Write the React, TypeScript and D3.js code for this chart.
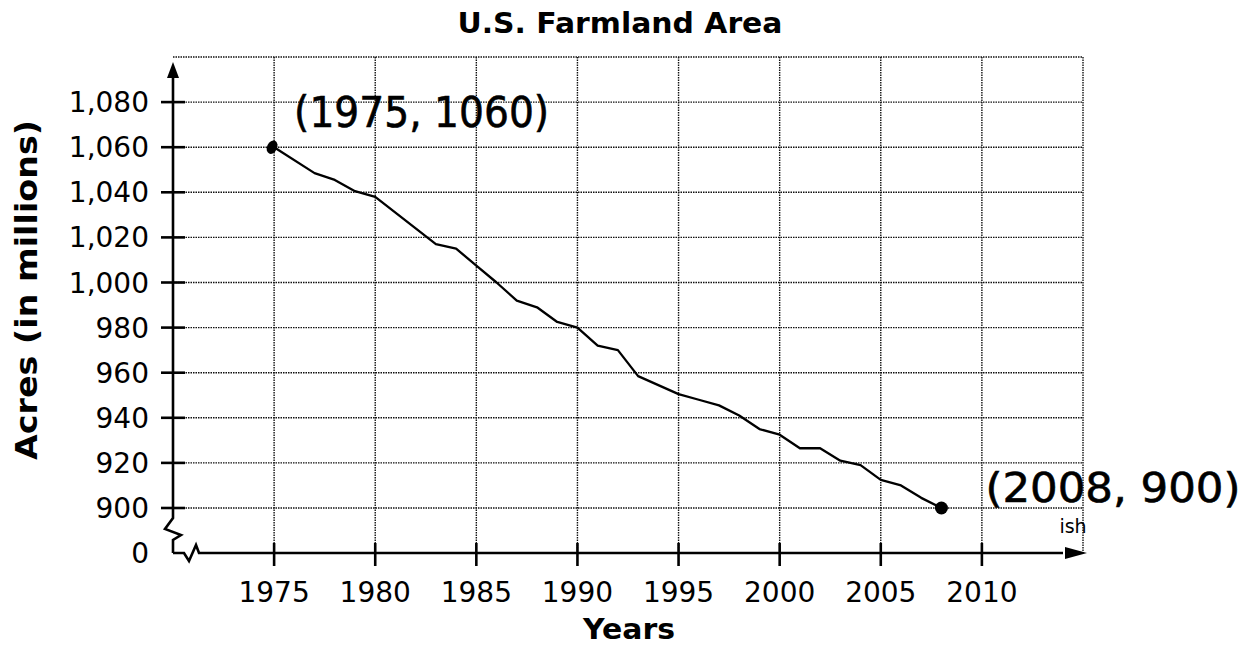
import React from "react";
import * as d3 from "d3";

const years = [1975, 1977, 1978, 1979, 1980, 1983, 1984, 1985, 1986, 1987, 1988, 1989, 1990, 1991, 1992, 1993, 1995, 1996, 1997, 1998, 1999, 2000, 2001, 2002, 2003, 2004, 2005, 2006, 2007, 2008];
const acres = [1060, 1048.5, 1045.5, 1040.5, 1038, 1017, 1015, 1007.5, 1000, 992, 989, 982.5, 980, 972, 970, 958.5, 950.5, 948, 945.5, 941, 935, 932.5, 926.5, 926.5, 921, 919, 912.5, 910, 904.5, 900];
const yTicks = [900, 920, 940, 960, 980, 1000, 1020, 1040, 1060, 1080];
const yGrid = [900, 920, 940, 960, 980, 1000, 1020, 1040, 1060, 1080, 1100];
const xTicks = [1975, 1980, 1985, 1990, 1995, 2000, 2005, 2010];
const xGrid = [1975, 1980, 1985, 1990, 1995, 2000, 2005, 2010, 2015];
const markedPoints = [
  { year: 1975, value: 1060, label: "(1975, 1060)" },
  { year: 2008, value: 900, label: "(2008, 900)" },
];

const FONT = "'DejaVu Sans', Verdana, sans-serif";

export default function App() {
  const W = 1240, H = 646;
  const x = d3.scaleLinear().domain([1970, 2015]).range([173, 1083]);
  const y = d3.scaleLinear().domain([900, 1100]).range([508, 57]);
  const axisY = y(900) + 45; // broken axis: the zero line
  const axisX = x(1970);
  const fmt = d3.format(",");

  const line = d3
    .line<number>()
    .x((_, i) => x(years[i]))
    .y((d) => y(d));

  const gridStyle = {
    stroke: "#111",
    strokeWidth: 1.4,
    strokeDasharray: "1.5 1",
    fill: "none",
  } as const;

  // axis break zigzags
  const yBreak = [
    [axisX, y(900)],
    [axisX, y(900) + 10],
    [axisX - 8, y(900) + 21],
    [axisX + 8, y(900) + 27],
    [axisX, y(900) + 32],
    [axisX, axisY],
  ];
  const xBreak = [
    [axisX, axisY],
    [axisX + 11, axisY],
    [axisX + 16, axisY + 8],
    [axisX + 23, axisY - 8],
    [axisX + 26, axisY],
    [x(2015) - 20, axisY],
  ];
  const poly = d3.line();

  const p1 = markedPoints[0];
  const p2 = markedPoints[1];

  return (
    <svg width={W} height={H} style={{ display: "block", position: "absolute", left: 0, top: 0, background: "#fff" }}>
      <rect x={0} y={0} width={W} height={H} fill="#fff" />
      {/* title */}
      <text x={620} y={33} textAnchor="middle" fontFamily={FONT} fontWeight="bold" fontSize={28} textLength={325} lengthAdjust="spacingAndGlyphs" fill="#000">
        U.S. Farmland Area
      </text>

      {/* grid */}
      {yGrid.map((v) => (
        <line key={"hg" + v} x1={axisX} x2={x(2015)} y1={y(v)} y2={y(v)} style={gridStyle} />
      ))}
      {xGrid.map((v) => (
        <line key={"vg" + v} x1={x(v)} x2={x(v)} y1={y(1100)} y2={axisY} style={gridStyle} />
      ))}

      {/* axes */}
      <path d={poly(yBreak as [number, number][]) || ""} stroke="#000" strokeWidth={2.6} fill="none" strokeLinejoin="miter" />
      <line x1={axisX} x2={axisX} y1={y(900)} y2={y(1100) + 14} stroke="#000" strokeWidth={2.6} />
      <path d={`M${axisX},${y(1100) + 5} L${axisX - 6},${y(1100) + 21} L${axisX + 6},${y(1100) + 21} Z`} fill="#000" />
      <path d={poly(xBreak as [number, number][]) || ""} stroke="#000" strokeWidth={2.6} fill="none" />
      <path d={`M${x(2015) + 4},${axisY} L${x(2015) - 18},${axisY - 6} L${x(2015) - 18},${axisY + 6} Z`} fill="#000" />

      {/* y ticks */}
      {yTicks.map((v) => (
        <g key={"yt" + v}>
          <line x1={axisX - 12} x2={axisX + 12} y1={y(v)} y2={y(v)} stroke="#000" strokeWidth={2.6} />
          <text x={axisX - 24} y={y(v)} dy="0.36em" textAnchor="end" fontFamily={FONT} fontSize={28} fill="#000">
            {fmt(v)}
          </text>
        </g>
      ))}
      <text x={axisX - 24} y={axisY} dy="0.36em" textAnchor="end" fontFamily={FONT} fontSize={28} fill="#000">
        0
      </text>

      {/* x ticks */}
      {xTicks.map((v) => (
        <g key={"xt" + v}>
          <line x1={x(v)} x2={x(v)} y1={axisY - 10} y2={axisY + 13} stroke="#000" strokeWidth={2.6} />
          <text x={x(v)} y={602} textAnchor="middle" fontFamily={FONT} fontSize={28} fill="#000">
            {v}
          </text>
        </g>
      ))}

      {/* axis titles */}
      <text x={629} y={639} textAnchor="middle" fontFamily={FONT} fontWeight="bold" fontSize={28} textLength={92} lengthAdjust="spacingAndGlyphs" fill="#000">
        Years
      </text>
      <text
        transform={`translate(37,290) rotate(-90)`}
        textAnchor="middle"
        fontFamily={FONT}
        fontWeight="bold"
        fontSize={30}
        textLength={340}
        lengthAdjust="spacingAndGlyphs"
        fill="#000"
      >
        Acres (in millions)
      </text>

      {/* data line */}
      <path d={line(acres) || ""} stroke="#000" strokeWidth={2.3} fill="none" strokeLinejoin="round" />

      {/* marked points */}
      <ellipse cx={x(p1.year) - 2} cy={y(p1.value)} rx={5} ry={7} transform={`rotate(25 ${x(p1.year) - 2} ${y(p1.value)})`} fill="#000" />
      <circle cx={x(p2.year)} cy={y(p2.value)} r={6.5} fill="#000" />

      {/* handwritten annotations */}
      <text
        x={x(p1.year) + 20}
        y={y(p1.value) - 20}
        fontFamily={FONT}
        fontSize={42}
        textLength={255}
        lengthAdjust="spacingAndGlyphs"
        fill="#000"
        stroke="#000"
        strokeWidth={0.6}
      >
        {p1.label}
      </text>
      <text
        x={x(p2.year) + 44}
        y={y(p2.value) - 6}
        fontFamily={FONT}
        fontSize={40}
        textLength={255}
        lengthAdjust="spacingAndGlyphs"
        fill="#000"
        stroke="#000"
        strokeWidth={0.6}
      >
        {p2.label}
      </text>
      <text x={x(p2.year) + 118} y={y(p2.value) + 25} fontFamily={FONT} fontSize={19} fill="#000">
        ish
      </text>
    </svg>
  );
}
